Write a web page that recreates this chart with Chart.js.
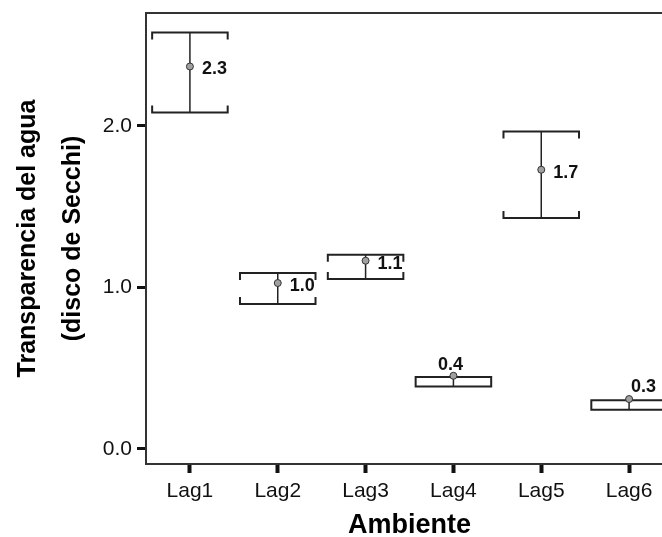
<!DOCTYPE html>
<html lang="es">
<head>
    <meta charset="UTF-8">
    <title>Transparencia del agua por ambiente</title>
    <script src="https://cdn.jsdelivr.net/npm/chart.js@4.4.0/dist/chart.umd.min.js"></script>
    <style>
        html, body {
            margin: 0;
            padding: 0;
            overflow: hidden;
            background: #ffffff;
        }
        #chartContainer {
            width: 680px;
            height: 537px;
        }
    </style>
</head>
<body>
<div id="chartContainer">
    <canvas id="myChart" width="680" height="537"></canvas>
</div>

<script>
    // values
    const categories = ['Lag1', 'Lag2', 'Lag3', 'Lag4', 'Lag5', 'Lag6'];
    const means = [2.367, 1.027, 1.165, 0.453, 1.728, 0.309];
    const upper = [2.577, 1.089, 1.202, 0.445, 1.965, 0.301];
    const lower = [2.082, 0.897, 1.052, 0.387, 1.429, 0.243];
    const valueLabels = ['2.3', '1.0', '1.1', '0.4', '1.7', '0.3'];
    const yTicks = [0, 1, 2];

    const FONT = '"Liberation Sans", Arial, sans-serif';
    const ctx = document.getElementById('myChart').getContext('2d');

    // error bars with bracket caps, drawn through the chart scales
    const errorBars = {
        id: 'errorBars',
        beforeDatasetsDraw(chart) {
            const c = chart.ctx;
            const x = chart.scales.x;
            const y = chart.scales.y;
            const half = (x.getPixelForValue(1) - x.getPixelForValue(0)) * 0.43;
            const tick = 7;
            c.save();
            c.strokeStyle = '#222';
            for (let i = 0; i < categories.length; i++) {
                const px = x.getPixelForValue(i);
                const yHi = y.getPixelForValue(upper[i]);
                const yLo = y.getPixelForValue(lower[i]);
                c.lineWidth = 1.5;
                c.beginPath();
                c.moveTo(px, yHi);
                c.lineTo(px, yLo);
                c.stroke();
                c.lineWidth = 2;
                c.beginPath();
                c.moveTo(px - half, yHi + tick);
                c.lineTo(px - half, yHi);
                c.lineTo(px + half, yHi);
                c.lineTo(px + half, yHi + tick);
                c.moveTo(px - half, yLo - tick);
                c.lineTo(px - half, yLo);
                c.lineTo(px + half, yLo);
                c.lineTo(px + half, yLo - tick);
                c.stroke();
            }
            c.restore();
        }
    };

    // value labels beside the means, plus the top frame line
    const valueText = {
        id: 'valueText',
        afterDatasetsDraw(chart, args, opts) {
            const c = chart.ctx;
            const x = chart.scales.x;
            const y = chart.scales.y;
            const area = chart.chartArea;
            c.save();
            c.strokeStyle = '#333';
            c.lineWidth = 2;
            c.beginPath();
            c.moveTo(area.left, area.top);
            c.lineTo(area.right, area.top);
            c.lineTo(area.right, area.bottom);
            c.stroke();

            c.fillStyle = '#111';
            c.font = 'bold 18px ' + FONT;
            c.textBaseline = 'middle';
            for (let i = 0; i < categories.length; i++) {
                const px = x.getPixelForValue(i);
                const py = y.getPixelForValue(means[i]);
                const place = opts.placement[i];
                if (place === 'right') {
                    c.textAlign = 'left';
                    c.fillText(valueLabels[i], px + 12, py + 3);
                } else if (place === 'above') {
                    c.textAlign = 'center';
                    c.fillText(valueLabels[i], px - 3, py - 11);
                } else {
                    c.textAlign = 'left';
                    c.fillText(valueLabels[i], px + 2, py - 12);
                }
            }
            c.restore();
        }
    };

    const myChart = new Chart(ctx, {
        type: 'line',
        data: {
            labels: categories,
            datasets: [
                {
                    label: 'Media',
                    data: means,
                    showLine: false,
                    pointStyle: 'circle',
                    pointRadius: 3.5,
                    pointBackgroundColor: '#a0a0a0',
                    pointBorderColor: '#333',
                    pointBorderWidth: 1
                },
                {
                    label: 'Media (marca)',
                    data: means,
                    showLine: false,
                    pointStyle: 'cross',
                    pointRadius: 3,
                    pointBorderColor: '#333',
                    pointBorderWidth: 1
                }
            ]
        },
        options: {
            responsive: false,
            animation: false,
            layout: {
                padding: {left: 0, top: 13, right: 7, bottom: 0}
            },
            scales: {
                x: {
                    type: 'category',
                    offset: true,
                    afterFit: scale => {
                        scale.height = 73;
                        scale.paddingLeft = 0;
                        scale.paddingRight = 0;
                    },
                    grid: {
                        offset: false,
                        drawOnChartArea: false,
                        drawTicks: true,
                        tickLength: 9,
                        tickWidth: 4,
                        tickColor: '#111'
                    },
                    border: {display: true, color: '#333', width: 2},
                    ticks: {
                        color: '#111',
                        padding: 6,
                        maxRotation: 0,
                        font: {family: FONT, size: 21}
                    },
                    title: {
                        display: true,
                        text: 'Ambiente',
                        color: '#000',
                        padding: {top: 0, bottom: -2},
                        font: {family: FONT, size: 27, weight: 'bold', lineHeight: 1.0}
                    }
                },
                y: {
                    min: -0.093,
                    max: 2.698,
                    afterFit: scale => {
                        scale.width = 146;
                        scale.paddingTop = 0;
                        scale.paddingBottom = 0;
                    },
                    afterBuildTicks: scale => {
                        scale.ticks = yTicks.map(v => ({value: v}));
                    },
                    grid: {
                        drawOnChartArea: false,
                        drawTicks: true,
                        tickLength: 9,
                        tickWidth: 3,
                        tickColor: '#111'
                    },
                    border: {display: true, color: '#333', width: 2},
                    ticks: {
                        color: '#111',
                        padding: 5,
                        font: {family: FONT, size: 21},
                        callback: v => Number(v).toFixed(1)
                    },
                    title: {
                        display: true,
                        text: ['Transparencia del agua', '(disco de Secchi)'],
                        color: '#000',
                        padding: {top: 6, bottom: 0},
                        font: {family: FONT, size: 25, weight: 'bold', lineHeight: 1.8}
                    }
                }
            },
            plugins: {
                legend: {display: false},
                tooltip: {enabled: false},
                valueText: {
                    placement: ['right', 'right', 'right', 'above', 'right', 'aboveRight']
                }
            }
        },
        plugins: [errorBars, valueText]
    });
</script>
</body>
</html>
